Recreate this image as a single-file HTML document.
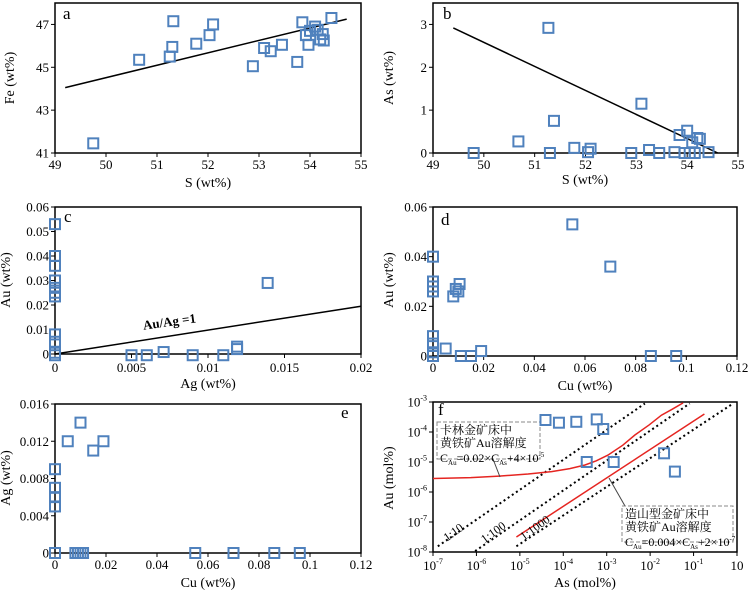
<!DOCTYPE html>
<html><head><meta charset="utf-8">
<style>
body{margin:0;background:#fff;}
svg{display:block;font-family:"Liberation Serif","Noto Serif CJK SC",serif;}
text{font-family:"Liberation Serif","Noto Serif CJK SC",serif;}
</style></head>
<body>
<svg id="fig" width="751" height="593" viewBox="0 0 751 593" xmlns="http://www.w3.org/2000/svg"></svg>
<script>
// Panel a: S vs Fe
const aS=[49.75,50.65,51.25,51.3,51.32,51.77,52.03,52.1,52.88,53.1,53.23,53.45,53.75,53.85,53.92,53.97,54.0,54.1,54.15,54.2,54.25,54.27,54.42];
const aFe=[41.45,45.35,45.5,45.95,47.15,46.1,46.5,47.0,45.05,45.9,45.75,46.05,45.25,47.1,46.5,46.05,46.7,46.9,46.75,46.3,46.55,46.25,47.3];
const aLineX=[49.2,54.72], aLineY=[44.05,47.25];
const aXTicks=[49,50,51,52,53,54,55], aYTicks=[41,43,45,47];
// Panel b: S vs As
const bS=[49.8,50.68,51.27,51.3,51.38,51.78,52.05,52.1,52.9,53.1,53.25,53.45,53.75,53.85,53.95,54.0,54.05,54.1,54.15,54.2,54.25,54.42];
const bAs=[0,0.27,2.92,0,0.75,0.12,0.02,0.1,0,1.15,0.07,0,0.02,0.42,0,0.52,0,0.25,0,0.35,0.33,0.02];
const bLineX=[49.4,54.6], bLineY=[2.92,0];
const bXTicks=[49,50,51,52,53,54,55], bYTicks=[0,1,2,3];
// Panel c: Ag vs Au
const cAg=[0,0,0,0,0,0,0,0,0,0,0,0.005,0.006,0.0071,0.009,0.011,0.0119,0.0119,0.0139];
const cAu=[0.053,0.040,0.036,0.030,0.027,0.025,0.0235,0.008,0.005,0.0005,-0.0005,-0.0005,-0.0005,0.0008,-0.0005,-0.0005,0.003,0.002,0.029];
const cLineX=[0,0.02], cLineY=[0,0.0195];
const cXTicks=[0,0.005,0.01,0.015,0.02], cXLabels=["0","0.005","0.01","0.015","0.02"];
const cYTicks=[0,0.01,0.02,0.03,0.04,0.05,0.06], cYLabels=["0","0.01","0.02","0.03","0.04","0.05","0.06"];
// Panel d: Cu vs Au
const dCu=[0,0,0,0,0,0,0,0,0.005,0.008,0.009,0.010,0.0105,0.011,0.015,0.019,0.055,0.07,0.086,0.096];
const dAu=[0.040,0.030,0.028,0.026,0.008,0.005,0.0015,0,0.003,0.024,0.027,0.026,0.029,0,0,0.002,0.053,0.036,0,0];
const dXTicks=[0,0.02,0.04,0.06,0.08,0.1,0.12], dXLabels=["0","0.02","0.04","0.06","0.08","0.1","0.12"];
const dYTicks=[0,0.02,0.04,0.06], dYLabels=["0","0.02","0.04","0.06"];
// Panel e: Cu vs Ag
const eCu=[0,0,0,0,0,0.005,0.01,0.015,0.019,0.008,0.009,0.01,0.011,0.055,0.07,0.086,0.096];
const eAg=[0.009,0.007,0.006,0.005,0,0.012,0.014,0.011,0.012,0,0,0,0,0,0,0,0];
const eXTicks=[0,0.02,0.04,0.06,0.08,0.1,0.12], eXLabels=["0","0.02","0.04","0.06","0.08","0.1","0.12"];
const eYTicks=[0,0.004,0.008,0.012,0.016], eYLabels=["0","0.004","0.008","0.012","0.016"];
// Panel f: log10 As vs log10 Au (mol%)
const fAs=[-4.41,-4.10,-3.70,-3.23,-3.08,-3.46,-2.84,-1.68,-1.43];
const fAu=[-3.6,-3.69,-3.66,-3.58,-3.9,-5.0,-5.0,-4.71,-5.32];
const fCarlinX=[-7,-6.13,-5.48,-4.81,-4.27,-3.85,-3.50,-3.24,-2.97,-2.63,-2.35,-2.02,-1.74,-1.49,-1.24];
const fCarlinY=[-5.55,-5.52,-5.47,-5.4,-5.32,-5.22,-5.1,-4.96,-4.77,-4.44,-4.1,-3.76,-3.44,-3.24,-3.03];
const fOroX=[-5.08,-0.75], fOroY=[-7.5,-3.4];
const fR10X=[-6.89,-2.12], fR10Y=[-7.81,-3.05];
const fR100X=[-6.03,-1.09], fR100Y=[-7.97,-3.05];
const fR1000X=[-5.08,-0.09], fR1000Y=[-7.81,-3.05];
const fXTicks=[-7,-6,-5,-4,-3,-2,-1,0], fYTicks=[-8,-7,-6,-5,-4,-3];

const NS="http://www.w3.org/2000/svg";
const svg=document.getElementById('fig');
function mk(tag,attrs,parent,text){const e=document.createElementNS(NS,tag);for(const k in attrs)e.setAttribute(k,attrs[k]);if(tag==='text')e.setAttribute('font-family','Liberation Serif, Noto Serif CJK SC, serif');if(text!==undefined)e.textContent=text;(parent||svg).appendChild(e);return e;}

function panel(name,box,xd,yd){
  const g=mk('g',{});
  
  
  const sx=v=>box.x0+(v-xd[0])/(xd[1]-xd[0])*(box.x1-box.x0);
  const sy=v=>box.y1-(v-yd[0])/(yd[1]-yd[0])*(box.y1-box.y0);
  const r=mk('rect',{x:box.x0,y:box.y0,width:box.x1-box.x0,height:box.y1-box.y0,fill:'none',stroke:'#000','stroke-width':1.5},g);
  
  
  return {g,sx,sy};
}
function xticks(p,ticks,labels,y,box,sup){
  ticks.forEach((t,i)=>{
    const x=p.sx(t);
    mk('line',{x1:x,x2:x,y1:box.y1,y2:box.y1+4,stroke:'#000','stroke-width':1},p.g);
    const tx=mk('text',{x:x,y:y,'text-anchor':'middle','font-size':13},p.g);
    
    
    if(sup){tx.textContent=labels[i][0];if(labels[i][1]!==null){mk('tspan',{dy:-6,'font-size':8},tx,labels[i][1]);}}
    else tx.textContent=labels[i];
  });
}
function yticks(p,ticks,labels,box,sup){
  ticks.forEach((t,i)=>{
    const y=p.sy(t);
    mk('line',{x1:box.x0-4,x2:box.x0,y1:y,y2:y,stroke:'#000','stroke-width':1},p.g);
    const tx=mk('text',{x:box.x0-6,y:y+4.5,'text-anchor':'end','font-size':13},p.g);
    
    
    if(sup){tx.textContent=labels[i][0];mk('tspan',{dy:-6,'font-size':8},tx,labels[i][1]);}
    else tx.textContent=labels[i];
  });
}
function titles(p,xt,xy,xx,yt,yx,yy,letter,lx,ly){
  const a=mk('text',{x:xx,y:xy,'text-anchor':'middle','font-size':14},p.g,xt);
  
  
  const b=mk('text',{x:yx,y:yy,'text-anchor':'middle','font-size':14,transform:`rotate(-90 ${yx} ${yy})`},p.g,yt);
  
  
  const c=mk('text',{x:lx,y:ly,'font-size':17},p.g,letter);
  
  
}
function pts(p,xs,ys){
  xs.forEach((v,i)=>{
    const s=mk('rect',{x:p.sx(v)-5,y:p.sy(ys[i])-5,width:10,height:10,fill:'none',stroke:'#4f81bd','stroke-width':2},p.g);
    
    
  });
}
function line(p,xs,ys,attrs,nm){
  const d=xs.map((v,i)=>(i?'L':'M')+p.sx(v).toFixed(1)+','+p.sy(ys[i]).toFixed(1)).join(' ');
  const l=mk('path',Object.assign({d:d,fill:'none'},attrs),p.g);
  
  
  return l;
}
const str=a=>a.map(String);

// a
let B={x0:55,x1:361,y0:3,y1:153};
let P=panel('panel-a-fe-vs-s',B,[49,55],[41,48]);
xticks(P,aXTicks,str(aXTicks),169,B);yticks(P,aYTicks,str(aYTicks),B);
titles(P,'S (wt%)',187,208,'Fe (wt%)',14,78,'a',63,19);
line(P,aLineX,aLineY,{stroke:'#000','stroke-width':1.5},'trend-line');
pts(P,aS,aFe);
// b
B={x0:433,x1:738,y0:3,y1:153};
P=panel('panel-b-as-vs-s',B,[49,55],[0,3.5]);
xticks(P,bXTicks,str(bXTicks),169,B);yticks(P,bYTicks,str(bYTicks),B);
titles(P,'S (wt%)',184,585,'As (wt%)',393,78,'b',443,19);
line(P,bLineX,bLineY,{stroke:'#000','stroke-width':1.5},'trend-line');
pts(P,bS,bAs);
// c
B={x0:55,x1:361,y0:207,y1:354};
P=panel('panel-c-au-vs-ag',B,[0,0.02],[0,0.06]);
xticks(P,cXTicks,cXLabels,372,B);yticks(P,cYTicks,cYLabels,B);
titles(P,'Ag (wt%)',388,208,'Au (wt%)',10,280,'c',64,222);
line(P,cLineX,cLineY,{stroke:'#000','stroke-width':1.5},'au-ag-ratio-line');
let t=mk('text',{x:170,y:326,'text-anchor':'middle','font-size':13,'font-weight':'bold',transform:'rotate(-8 170 326)'},P.g,'Au/Ag =1');


pts(P,cAg,cAu);
// d
B={x0:433,x1:737,y0:207,y1:356};
P=panel('panel-d-au-vs-cu',B,[0,0.12],[0,0.06]);
xticks(P,dXTicks,dXLabels,372,B);yticks(P,dYTicks,dYLabels,B);
titles(P,'Cu (wt%)',390,585,'Au (wt%)',393,280,'d',441,225);
pts(P,dCu,dAu);
// e
B={x0:55,x1:361,y0:404,y1:553};
P=panel('panel-e-ag-vs-cu',B,[0,0.12],[0,0.016]);
xticks(P,eXTicks,eXLabels,569,B);yticks(P,eYTicks,eYLabels,B);
titles(P,'Cu (wt%)',587,208,'Ag (wt%)',10,478,'e',341,418);
pts(P,eCu,eAg);
// f
B={x0:433,x1:737,y0:402,y1:552};
P=panel('panel-f-au-vs-as-log',B,[-7,0],[-8,-3]);
xticks(P,fXTicks,fXTicks.map(v=>v===0?['10',null]:['10',String(v)]),570,B,true);
yticks(P,fYTicks,fYTicks.map(v=>['10',String(v)]),B,true);
titles(P,'As (mol%)',587,585,'Au (mol%)',393,478,'f',438,415);
line(P,fR10X,fR10Y,{stroke:'#000','stroke-width':2,'stroke-dasharray':'2,3'},'ratio-line-1-10');
line(P,fR100X,fR100Y,{stroke:'#000','stroke-width':2,'stroke-dasharray':'2,3'},'ratio-line-1-100');
line(P,fR1000X,fR1000Y,{stroke:'#000','stroke-width':2,'stroke-dasharray':'2,3'},'ratio-line-1-1000');
line(P,fCarlinX,fCarlinY,{stroke:'#e52521','stroke-width':1.5},'carlin-solubility-curve');
line(P,fOroX,fOroY,{stroke:'#e52521','stroke-width':1.5},'orogenic-solubility-curve');
[['1:10',-6.48,-7.45],['1:100',-5.56,-7.45],['1:1000',-4.60,-7.3]].forEach(a=>{
  const x=P.sx(a[1]),y=P.sy(a[2]);
  const tt=mk('text',{x:x,y:y,'text-anchor':'middle','font-size':12,transform:`rotate(-36 ${x} ${y})`},P.g,a[0]);
  
  
});
mk('line',{x1:493,y1:459,x2:500,y2:477,stroke:'#444','stroke-width':1},P.g);
mk('line',{x1:609,y1:478,x2:625,y2:506,stroke:'#444','stroke-width':1},P.g);
function box(x,y,w,h,lines,nm){
  const bg=mk('g',{},P.g);
  
  
  mk('rect',{x:x,y:y,width:w,height:h,fill:'#fff',stroke:'#888','stroke-width':1,'stroke-dasharray':'4,2'},bg);
  mk('text',{x:x+3,y:y+12,'font-size':12},bg,lines[0]);
  mk('text',{x:x+3,y:y+25,'font-size':12},bg,lines[1]);
  const f=mk('text',{x:x+3,y:y+40,'font-size':12},bg,'C');
  mk('tspan',{dy:3,'font-size':7},f,'Au');
  mk('tspan',{dy:-3},f,lines[2]);
  mk('tspan',{dy:3,'font-size':7},f,'As');
  mk('tspan',{dy:-3},f,lines[3]);
  mk('tspan',{dy:-5,'font-size':7},f,lines[4]);
}
box(437,422,103,37,['卡林金矿床中','黄铁矿Au溶解度','=0.02×C','+4×10','-5'],'carlin-annotation');
box(622,506,111,36,['造山型金矿床中','黄铁矿Au溶解度','=0.004×C','+2×10','-7'],'orogenic-annotation');
pts(P,fAs,fAu);
</script>
</body></html>
